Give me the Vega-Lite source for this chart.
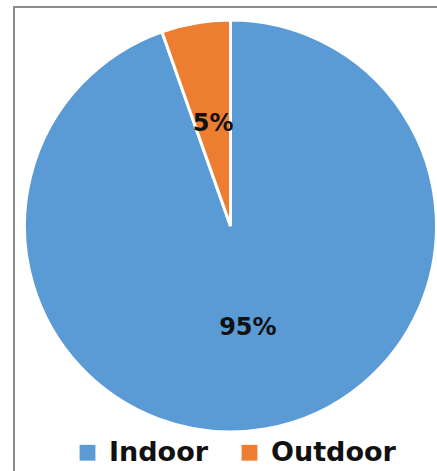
{
  "$schema": "https://vega.github.io/schema/vega-lite/v6.json",
  "width": 433,
  "height": 470,
  "autosize": "none",
  "padding": {"left": 14, "top": 7, "right": 0, "bottom": 0},
  "background": "white",
  "view": {"stroke": "#8c8c8c", "strokeWidth": 2, "fill": "white"},
  "data": {"values": [
    {"location": "Indoor", "share": 94.6, "label": "95%", "rank": 1},
    {"location": "Outdoor", "share": 5.4, "label": "5%", "rank": 2}
  ]},
  "encoding": {
    "theta": {"field": "share", "type": "quantitative", "stack": true},
    "order": {"field": "rank", "type": "quantitative", "sort": "ascending"}
  },
  "layer": [
    {
      "mark": {"type": "arc", "radius": 206, "stroke": "white", "strokeWidth": 3, "y": {"expr": "height/2 - 16"}},
      "encoding": {
        "color": {
          "field": "location", "type": "nominal",
          "scale": {"domain": ["Indoor", "Outdoor"], "range": ["#5B9BD5", "#ED7D31"]},
          "legend": {
            "orient": "none", "legendX": 60, "legendY": 432, "direction": "horizontal",
            "title": null, "padding": 0, "symbolType": "square", "symbolSize": 250,
            "symbolStrokeWidth": 0, "symbolOpacity": 1,
            "labelFont": "DejaVu Sans", "labelFontWeight": "bold", "labelFontSize": 27,
            "labelColor": "#111111", "labelOffset": 8, "columnPadding": 27
          }
        }
      }
    },
    {
      "mark": {"type": "text", "radius": 103, "font": "DejaVu Sans", "fontWeight": "bold", "fontSize": 24, "color": "#111111", "align": "center", "baseline": "middle", "y": {"expr": "height/2 - 16"}},
      "encoding": {"text": {"field": "label", "type": "nominal"}}
    }
  ]
}
